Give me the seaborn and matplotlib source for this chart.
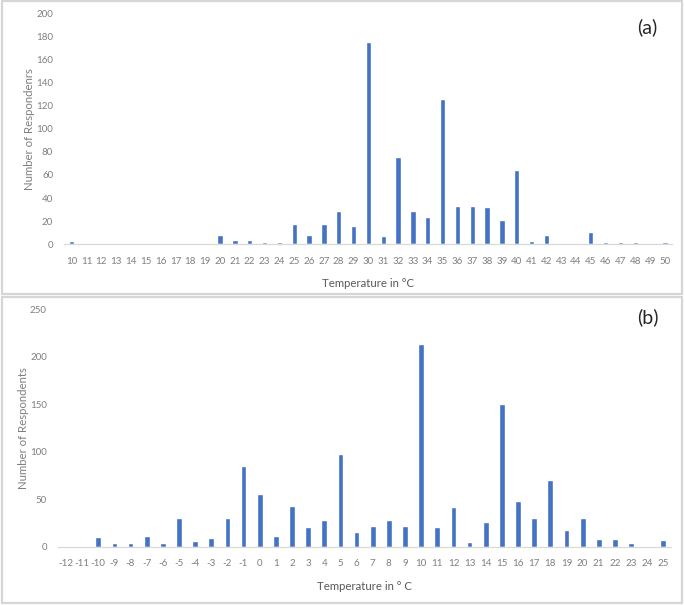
import matplotlib
matplotlib.use("Agg")
import matplotlib.pyplot as plt
from matplotlib.patches import Rectangle
import seaborn as sns
import pandas as pd

# --- Data ---
temps_a = list(range(10, 51))
counts_a = [3, 0, 0, 0, 0, 1, 1, 0, 0, 1,
            8, 4, 4, 2, 2, 18, 8, 18, 29, 16,
            175, 7, 76, 29, 24, 126, 33, 33, 32, 21,
            64, 3, 8, 0, 0, 11, 2, 2, 2, 0, 2]

temps_b = list(range(-12, 26))
counts_b = [0, 0, 10, 4, 4, 12, 4, 30, 6, 9,
            30, 85, 56, 12, 43, 21, 28, 98, 16, 22,
            28, 22, 213, 21, 42, 5, 26, 150, 48, 30,
            70, 18, 31, 8, 8, 4, 0, 7]

yticks_a = list(range(0, 201, 20))
yticks_b = list(range(0, 251, 50))

BAR = "#4472C4"
GREY = "#7f7f7f"
W, H = 685, 605

sns.set_style("white")
plt.rcParams["font.family"] = ["Lato", "DejaVu Sans"]

fig = plt.figure(figsize=(W / 100, H / 100), dpi=100)


def px_box(left, top, right, bottom):
    """Convert pixel box (top-left origin) to figure fraction rect."""
    return [left / W, 1 - bottom / H, (right - left) / W, (bottom - top) / H]


def draw_panel(box, temps, counts, yticks, ylabel, xlabel, tag, tag_pos,
               ylab_x, xlab_pad):
    ax = fig.add_axes(px_box(*box))
    df = pd.DataFrame({"t": [str(t) for t in temps], "n": counts})
    sns.barplot(data=df, x="t", y="n", order=df["t"], color=BAR,
                width=0.36, saturation=1, ax=ax)
    ax.set_xlim(-0.5, len(temps) - 0.5)
    ax.set_ylim(0, yticks[-1])
    ax.set_yticks(yticks)
    ax.tick_params(axis="both", length=0, labelsize=7, colors=GREY)
    ax.tick_params(axis="x", pad=9)
    ax.tick_params(axis="y", pad=8)
    for s in ["top", "right", "left"]:
        ax.spines[s].set_visible(False)
    ax.spines["bottom"].set_color("#d9d9d9")
    ax.spines["bottom"].set_linewidth(0.9)
    ax.set_ylabel(ylabel, fontsize=8.2, color=GREY)
    # place y label by pixel x (right edge of rotated text)
    ax.yaxis.set_label_coords((ylab_x - box[0]) / (box[2] - box[0]), 0.5)
    ax.set_xlabel(xlabel, fontsize=8.2, color="#595959", labelpad=xlab_pad)
    ax.grid(False)
    fig.text(tag_pos[0] / W, 1 - tag_pos[1] / H, tag, fontsize=14,
             color="#262626", ha="center", va="center")
    return ax


# panel borders
for top, bottom in [(1, 294), (297, 603)]:
    fig.patches.append(Rectangle((1.5 / W, 1 - bottom / H), (682 - 1.5) / W,
                                 (bottom - top) / H, transform=fig.transFigure,
                                 fill=False, edgecolor="#d6d6d6", linewidth=1.6))

draw_panel((64.3, 13.3, 672.4, 244.3), temps_a, counts_a, yticks_a,
           "Number of Respondenrs", "Temperature in °C", "(a)", (647, 27), 35, 9)

draw_panel((57.9, 309.3, 671.4, 547.0), temps_b, counts_b, yticks_b,
           "Number of Respondents", "Temperature in ° C", "(b)", (648, 317), 29, 9)

fig.savefig("out.png", dpi=100)
